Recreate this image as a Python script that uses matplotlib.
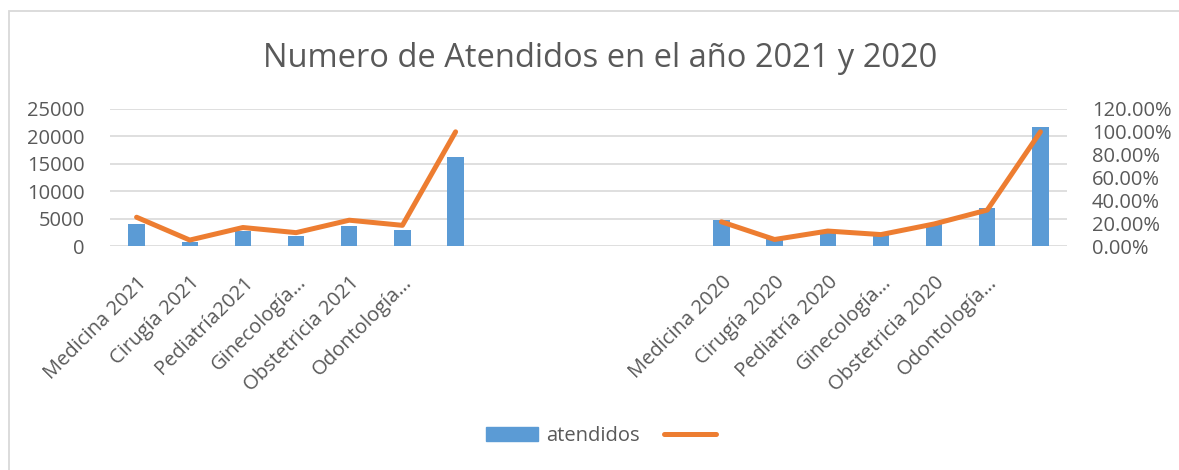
import numpy as np
import matplotlib
matplotlib.use("Agg")
import matplotlib.pyplot as plt
from matplotlib.patches import Patch, Rectangle
from matplotlib.lines import Line2D
from matplotlib.ticker import FuncFormatter

plt.rcParams['font.family'] = ['Open Sans', 'DejaVu Sans']

# data
cats_2021 = ["Medicina 2021", "Cirugía 2021", "Pediatría2021", "Ginecología…",
             "Obstetricia 2021", "Odontología…", ""]
cats_2020 = ["Medicina 2020", "Cirugía 2020", "Pediatría 2020", "Ginecología…",
             "Obstetricia 2020", "Odontología…", ""]
atendidos_2021 = [4050, 800, 2650, 1900, 3700, 2950, 16250]
atendidos_2020 = [4700, 1250, 2900, 2200, 4200, 6900, 21800]
pct_2021 = [0.252, 0.052, 0.162, 0.117, 0.226, 0.181, 1.0]
pct_2020 = [0.212, 0.057, 0.131, 0.100, 0.193, 0.315, 1.0]
n_gap = 4

blue = '#5b9bd5'
orange = '#ed7d31'
grey = '#595959'
grid = '#d9d9d9'

gap = [np.nan] * n_gap
labels = cats_2021 + [""] * n_gap + cats_2020
bars = np.array(atendidos_2021 + gap + atendidos_2020, dtype=float)
line = np.array(pct_2021 + gap + pct_2020, dtype=float)
x = np.arange(len(labels))

fig = plt.figure(figsize=(11.79, 4.70), dpi=100)
# chart border (cropped at right and bottom in the original)
fig.patches.append(Rectangle((9 / 1179, -0.05), 1.1, 1.05 - 11 / 470, transform=fig.transFigure,
                             fill=False, edgecolor=grid, lw=1.3))

ax = fig.add_axes([110 / 1179, 1 - 246 / 470, 957 / 1179, 137 / 470])
ax2 = ax.twinx()

ax.bar(x, np.nan_to_num(bars), width=0.31, color=blue, zorder=2)
ax2.plot(x, line, color=orange, lw=3.6, solid_capstyle='round', solid_joinstyle='round', zorder=3)

ax.set_xlim(-0.5, len(labels) - 0.5)
ax.set_ylim(0, 25000)
ax.set_yticks(np.arange(0, 25001, 5000))
ax2.set_ylim(0, 1.2)
ax2.set_yticks(np.arange(0, 1.21, 0.2))
ax2.yaxis.set_major_formatter(FuncFormatter(lambda v, p: f"{v * 100:.2f}%"))

ax.yaxis.grid(True, color=grid, lw=1.2)
ax.set_axisbelow(True)
for a in (ax, ax2):
    for s in a.spines.values():
        s.set_visible(False)
    a.tick_params(length=0, labelsize=14.5, labelcolor=grey)
ax.tick_params(axis='y', pad=18)
ax2.tick_params(axis='y', pad=18)

ax.set_xticks(x)
ax.set_xticklabels(labels, rotation=45, ha='right', va='top', rotation_mode='anchor')
ax.tick_params(axis='x', pad=19)

fig.text(0.509, 0.876, "Numero de Atendidos en el año 2021 y 2020", ha='center', va='center',
         fontsize=23.5, color=grey)

handles = [Patch(color=blue), Line2D([], [], color=orange, lw=3.6, solid_capstyle='round')]
fig.legend(handles, ["atendidos", ""], loc='center', bbox_to_anchor=(0.513, 0.072), ncol=2,
           frameon=False, fontsize=14.5, labelcolor=grey, handlelength=2.6, handleheight=0.65,
           handletextpad=0.4, columnspacing=1.2)

fig.savefig('out.png', dpi=100)
